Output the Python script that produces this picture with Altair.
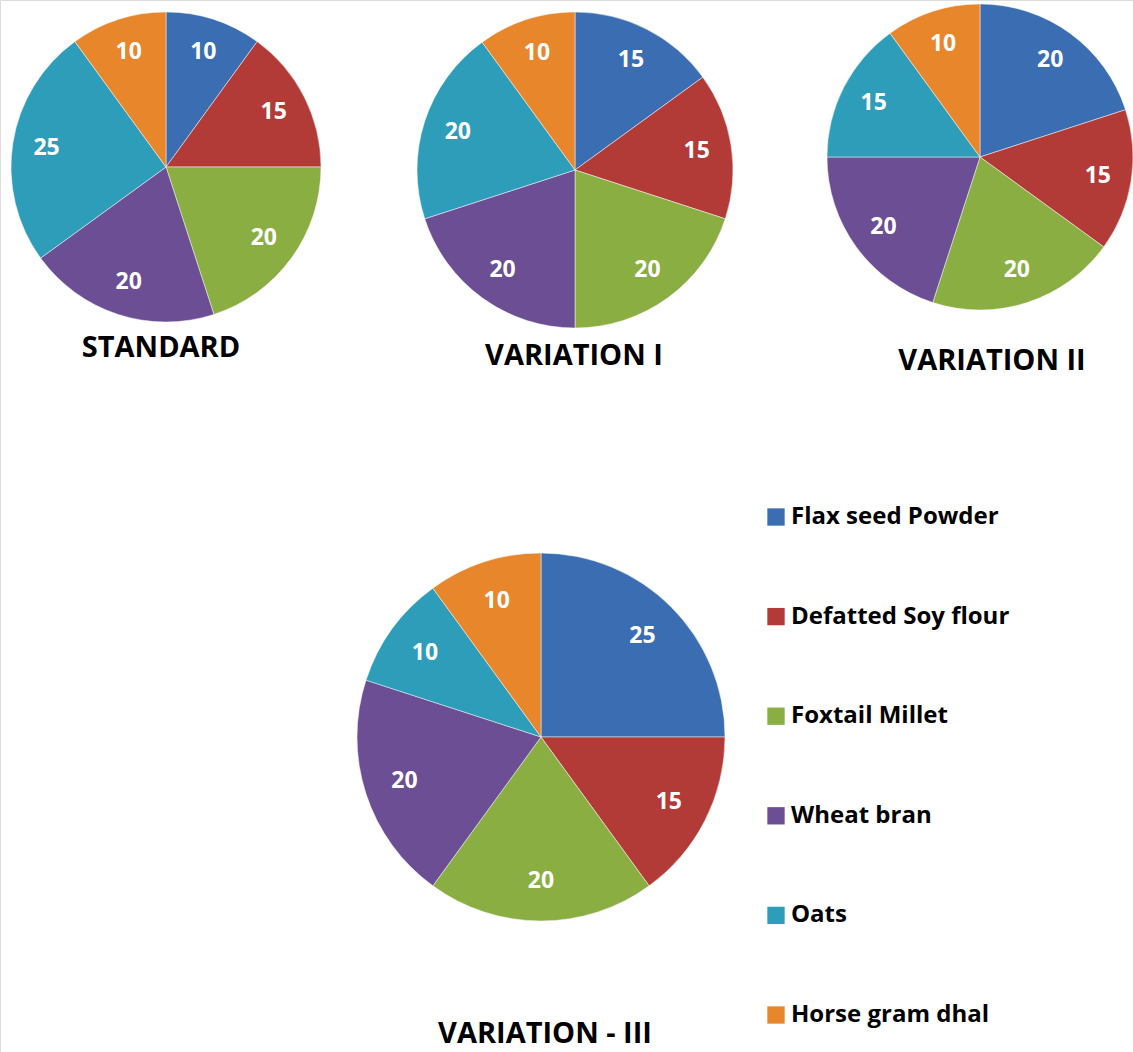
import altair as alt
import pandas as pd

ingredients = ["Flax seed Powder", "Defatted Soy flour", "Foxtail Millet",
               "Wheat bran", "Oats", "Horse gram dhal"]
colors = ["#3a6db1", "#b23b37", "#8aae42", "#6b4e93", "#2d9dba", "#e7862b"]

pies = ["STANDARD", "VARIATION I", "VARIATION II", "VARIATION - III"]
standard = [10, 15, 20, 20, 25, 10]
variation_1 = [15, 15, 20, 20, 20, 10]
variation_2 = [20, 15, 20, 20, 15, 10]
variation_3 = [25, 15, 20, 20, 10, 10]
series = [standard, variation_1, variation_2, variation_3]

rows = []
for p, vals in zip(pies, series):
    for i, (ing, v) in enumerate(zip(ingredients, vals)):
        rows.append({"pie": p, "ingredient": ing, "value": v, "idx": i})
df = pd.DataFrame(rows)

# layout: (cx, cy, r, title_x, title_y)
layout = {
    "STANDARD": (166, 167, 155, 161, 348),
    "VARIATION I": (575, 170, 158, 574, 356),
    "VARIATION II": (980, 157, 153, 992, 361),
    "VARIATION - III": (541, 737, 184, 545, 1034),
}

FONT = "Open Sans"
color_scale = alt.Scale(domain=ingredients, range=colors)
theta_scale = alt.Scale(domain=[0, 100])

legend = alt.Legend(
    title=None,
    orient="none",
    legendX=764,
    legendY=505,
    symbolType="square",
    symbolSize=300,
    symbolStrokeWidth=0,
    labelFont=FONT,
    labelFontSize=24,
    labelFontWeight="bold",
    labelColor="#000000",
    labelOffset=3,
    rowPadding=75.6,
    labelLimit=400,
)

layers = []
for k, p in enumerate(pies):
    cx, cy, r, tx, ty = layout[p]
    base = alt.Chart(df).transform_filter(alt.datum.pie == p).encode(
        theta=alt.Theta("value:Q", stack=True, scale=theta_scale),
        order=alt.Order("idx:Q"),
        x=alt.value(cx),
        y=alt.value(cy),
    )
    color_enc = alt.Color("ingredient:N", scale=color_scale, sort=ingredients,
                          legend=legend if k == 0 else None)
    arc = base.mark_arc(outerRadius=r, stroke="#ffffff", strokeWidth=0.8,
                        strokeOpacity=0.6).encode(color=color_enc)
    lbl = base.mark_text(
        radius=r * 0.78, font=FONT, fontSize=23, fontWeight="bold", color="white",
        align="center", baseline="middle"
    ).encode(text=alt.Text("value:Q"))
    title = alt.Chart(pd.DataFrame({"t": [p]})).mark_text(
        font=FONT, fontSize=29, fontWeight="bold", color="#000000",
        align="center", baseline="middle"
    ).encode(text="t:N", x=alt.value(tx), y=alt.value(ty))
    layers += [arc, lbl, title]

chart = alt.layer(*layers).properties(
    width=1133, height=1052, padding=0, autosize=alt.AutoSizeParams(type="none")
).configure_view(stroke=None).configure(background="white")

chart.save("out.html", embed_options={"renderer": "svg", "actions": False})
